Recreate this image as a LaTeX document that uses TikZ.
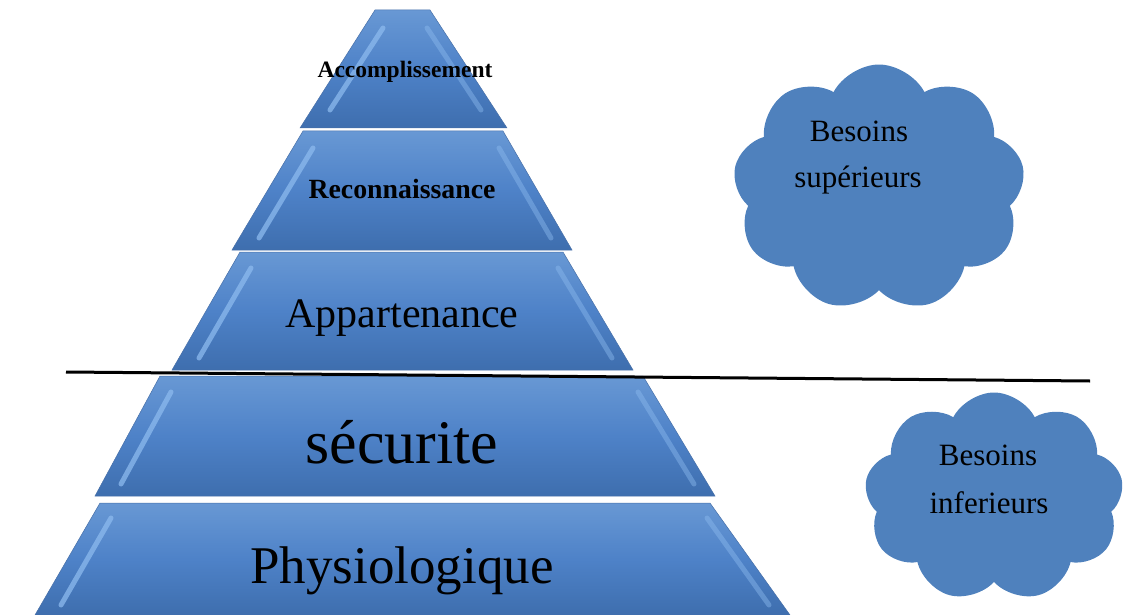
\documentclass[tikz,border=0pt]{standalone}
\usepackage{fontspec}
\setmainfont{Liberation Serif}
\usetikzlibrary{shapes.symbols}

\definecolor{pyrtop}{RGB}{104,152,212}
\definecolor{pyrmid}{RGB}{78,130,200}
\definecolor{pyrbot}{RGB}{62,110,174}
\definecolor{pyredge}{RGB}{72,112,168}
\definecolor{bevel}{RGB}{140,186,238}
\definecolor{nuage}{RGB}{79,129,189}

\tikzset{
  tier/.style={top color=pyrtop, bottom color=pyrbot, middle color=pyrmid, draw=pyredge, line width=0.5pt},
  bevelline/.style={bevel, line width=5pt, line cap=round, opacity=0.75},
  bevelfaint/.style={bevelline, opacity=0.45},
  level/.style={anchor=base, inner sep=0pt},
  bulle/.style={cloud, cloud puffs=9, cloud puff arc=125, fill=nuage, draw=none, inner sep=0pt},
  bulletext/.style={anchor=base, inner sep=0pt, font=\fontsize{31}{36}\selectfont},
}

\begin{document}
\begin{tikzpicture}[x=1pt, y=-1pt]
            \useasboundingbox (0,0) rectangle (1124,615);

            % pyramide
            \draw[tier] (375,10) -- (430,10) -- (507,128) -- (300,128) -- cycle;
            \draw[tier] (303,131) -- (503,131) -- (572,250) -- (232,250) -- cycle;
            \draw[tier] (240,252) -- (563,252) -- (633,370) -- (172,370) -- cycle;
            \draw[tier] (160,376) -- (643,376) -- (715,496) -- (95,496) -- cycle;
            \draw[tier] (100,503) -- (710,503) -- (790,615) -- (35,615) -- cycle;

            \draw[bevelline] (383,28) -- (330,110);
            \draw[bevelfaint] (427,28) -- (481,110);
            \draw[bevelline] (313,148) -- (259,238);
            \draw[bevelfaint] (499,148) -- (551,238);
            \draw[bevelline] (251,268) -- (199,358);
            \draw[bevelfaint] (558,268) -- (612,358);
            \draw[bevelline] (171,392) -- (121,484);
            \draw[bevelfaint] (638,392) -- (694,484);
            \draw[bevelline] (111,518) -- (61,605);
            \draw[bevelfaint] (707,518) -- (769,605);

            \node[level, font=\fontsize{23.5}{28}\selectfont\bfseries] (accomp) at (405,78) {Accomplissement};
            \node[level, font=\fontsize{27.8}{32}\selectfont\bfseries] (reconn) at (402,198) {Reconnaissance};
            \node[level, font=\fontsize{42}{48}\selectfont] (appart) at (402,327) {Appartenance};
            \node[level, font=\fontsize{62}{70}\selectfont] (secur) at (402,463) {sécurite};
            \node[level, font=\fontsize{53}{60}\selectfont] (physio) at (402,583) {Physiologique};

            % separation
            \coordinate (sepl) at (66,372);
            \coordinate (sepr) at (1090,381);
            \draw[black, line width=3pt] (sepl) -- (sepr);

            % nuages
            \node[bulle, minimum width=292pt, minimum height=247pt] (supcloud) at (879,188) {};
            \node[bulle, minimum width=259pt, minimum height=209pt] (infcloud) at (994,497) {};

            \node[bulletext] (sup1) at (859,142) {Besoins};
            \node[bulletext] (sup2) at (858,187) {supérieurs};
            \node[bulletext] (inf1) at (988,465) {Besoins};
            \node[bulletext] (inf2) at (989,513) {inferieurs};
        \end{tikzpicture}
\end{document}
